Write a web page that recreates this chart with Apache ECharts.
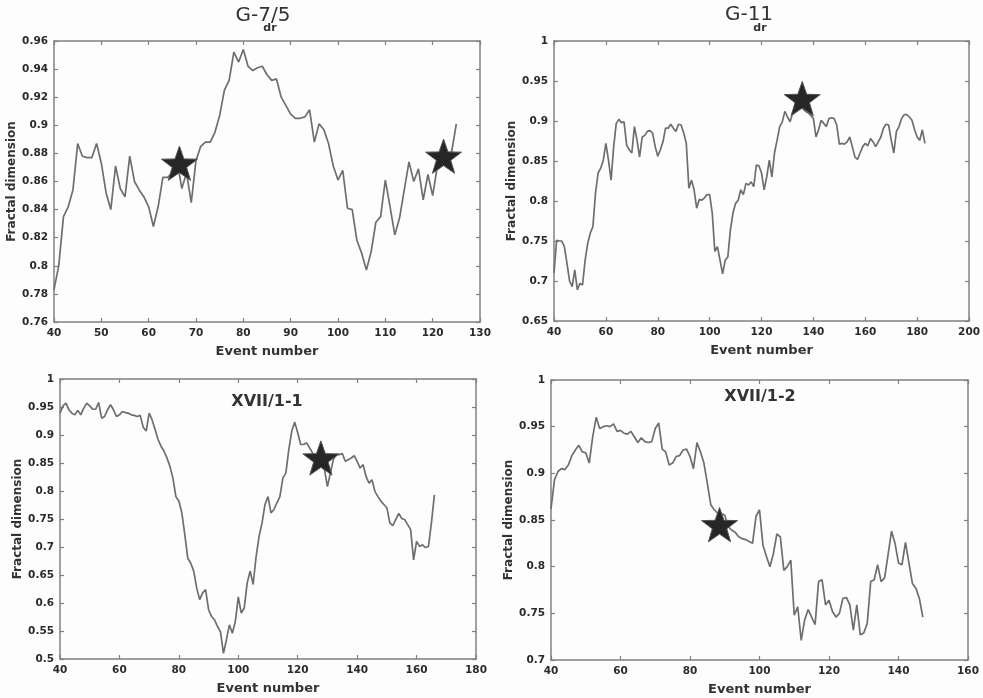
<!DOCTYPE html>
<html>
<head>
<meta charset="utf-8">
<script src="https://cdn.jsdelivr.net/npm/echarts@6/dist/echarts.min.js"></script>
<style>
  html, body { margin: 0; padding: 0; background: #fff; }
  #main { width: 983px; height: 698px; }
</style>
</head>
<body>
<div id="main"></div>
<script>
// event numbers start at 40 in every panel, one value per event
var startEvent = 40;

var g75Values = [
  0.783,0.80,0.835,0.842,0.854,0.887,0.878,0.877,0.877,0.887,
  0.873,0.852,0.84,0.871,0.855,0.849,0.878,0.86,0.854,0.849,
  0.842,0.828,0.842,0.863,0.863,0.866,0.875,0.855,0.866,0.845,
  0.875,0.885,0.888,0.888,0.895,0.907,0.925,0.932,0.952,0.945,
  0.954,0.942,0.939,0.941,0.942,0.936,0.932,0.933,0.92,0.914,
  0.908,0.905,0.905,0.906,0.911,0.888,0.901,0.897,0.887,0.871,
  0.861,0.868,0.841,0.84,0.818,0.809,0.797,0.81,0.831,0.835,
  0.861,0.842,0.822,0.834,0.854,0.874,0.86,0.869,0.847,0.865,
  0.85,0.871,0.878,0.88,0.881,0.901
];
var g11Values = [
  0.71,0.751,0.75,0.75,0.743,0.722,0.70,0.693,0.714,0.689,
  0.697,0.695,0.726,0.747,0.76,0.768,0.81,0.835,0.841,0.851,
  0.872,0.851,0.826,0.868,0.897,0.902,0.898,0.899,0.87,0.864,
  0.86,0.893,0.876,0.855,0.88,0.882,0.887,0.888,0.885,0.868,
  0.856,0.864,0.874,0.891,0.891,0.896,0.891,0.887,0.896,0.895,
  0.885,0.872,0.816,0.826,0.814,0.791,0.802,0.801,0.804,0.808,
  0.808,0.785,0.737,0.743,0.726,0.709,0.726,0.73,0.764,0.785,
  0.797,0.801,0.814,0.808,0.822,0.82,0.824,0.818,0.845,0.844,
  0.835,0.814,0.83,0.851,0.83,0.86,0.876,0.893,0.899,0.912,
  0.905,0.899,0.91,0.915,0.918,0.92,0.915,0.912,0.91,0.907,
  0.903,0.88,0.889,0.901,0.897,0.893,0.903,0.904,0.903,0.895,
  0.871,0.872,0.871,0.874,0.88,0.868,0.855,0.852,0.86,0.868,
  0.872,0.869,0.878,0.874,0.868,0.874,0.88,0.891,0.896,0.895,
  0.876,0.86,0.887,0.893,0.903,0.908,0.908,0.905,0.901,0.889,
  0.88,0.876,0.889,0.872
];
var x11Values = [
  0.939,0.952,0.957,0.945,0.939,0.936,0.944,0.936,0.948,0.957,
  0.952,0.946,0.946,0.958,0.93,0.933,0.945,0.954,0.945,0.933,
  0.936,0.942,0.94,0.939,0.936,0.935,0.933,0.935,0.914,0.907,
  0.939,0.927,0.91,0.892,0.88,0.871,0.859,0.844,0.823,0.79,
  0.782,0.761,0.722,0.68,0.671,0.657,0.627,0.606,0.618,0.624,
  0.588,0.576,0.57,0.558,0.549,0.51,0.534,0.561,0.546,0.567,
  0.611,0.582,0.591,0.636,0.657,0.633,0.683,0.719,0.743,0.776,
  0.79,0.761,0.767,0.779,0.79,0.823,0.832,0.874,0.907,0.923,
  0.904,0.883,0.883,0.886,0.877,0.868,0.859,0.856,0.85,0.838,
  0.808,0.832,0.856,0.865,0.865,0.867,0.853,0.856,0.859,0.863,
  0.853,0.841,0.847,0.826,0.814,0.82,0.799,0.79,0.782,0.776,
  0.77,0.743,0.738,0.749,0.76,0.751,0.749,0.74,0.731,0.677,
  0.71,0.701,0.704,0.699,0.701,0.743,0.793
];
var x12Values = [
  0.862,0.893,0.902,0.905,0.904,0.909,0.919,0.925,0.93,0.923,
  0.922,0.911,0.939,0.96,0.948,0.95,0.951,0.95,0.953,0.945,
  0.946,0.943,0.942,0.945,0.939,0.933,0.938,0.934,0.933,0.934,
  0.948,0.954,0.926,0.923,0.909,0.911,0.918,0.919,0.925,0.926,
  0.918,0.905,0.933,0.923,0.911,0.889,0.866,0.861,0.857,0.857,
  0.855,0.843,0.839,0.837,0.832,0.83,0.829,0.827,0.825,0.854,
  0.861,0.823,0.811,0.8,0.814,0.835,0.832,0.796,0.8,0.807,
  0.748,0.757,0.721,0.743,0.754,0.746,0.738,0.784,0.786,0.759,
  0.764,0.752,0.746,0.75,0.766,0.767,0.759,0.732,0.759,0.727,
  0.729,0.739,0.784,0.786,0.802,0.784,0.788,0.813,0.838,0.825,
  0.804,0.802,0.826,0.804,0.782,0.777,0.766,0.746
];

// star markers [event, fractal dimension]
var g75Stars = [[66.5, 0.873], [122.3, 0.878]];
var g11Stars = [[135.7, 0.928]];
var x11Stars = [[127.8, 0.859]];
var x12Stars = [[88.5, 0.845]];

var panelTitles = ['G-7/5', 'G-11', 'XVII/1-1', 'XVII/1-2'];

var panels = [
  { values: g75Values, stars: g75Stars, grid: {left: 54, top: 41, width: 426, height: 281},
    x: [40, 130, 10], y: [0.76, 0.96, 0.02] },
  { values: g11Values, stars: g11Stars, grid: {left: 554, top: 41, width: 416, height: 280},
    x: [40, 200, 20], y: [0.65, 1, 0.05] },
  { values: x11Values, stars: x11Stars, grid: {left: 60, top: 379, width: 416, height: 280},
    x: [40, 180, 20], y: [0.5, 1, 0.05] },
  { values: x12Values, stars: x12Stars, grid: {left: 551, top: 380, width: 417, height: 280},
    x: [40, 160, 20], y: [0.7, 1, 0.05] }
];

var starPath = 'path://M50,0 L61.8,33.8 L97.6,34.5 L69.1,56.2 L79.4,90.5 L50,70.1 L20.6,90.5 L30.9,56.2 L2.4,34.5 L38.2,33.8 Z';
var frameColor = '#808080';
var labelStyle = { color: '#2a2a2a', fontFamily: 'DejaVu Sans', fontWeight: 'bold', fontSize: 10.5 };

var chart = echarts.init(document.getElementById('main'));
var grids = [], xAxes = [], yAxes = [], series = [];

panels.forEach(function (p, i) {
  grids.push(p.grid);
  var pts = p.values.map(function (v, k) { return [startEvent + k, v]; });
  var axLine = { show: true, lineStyle: { color: frameColor, width: 1.5 } };
  var axTick = { show: true, inside: true, length: 4, lineStyle: { color: frameColor, width: 1.2 } };
  var nameStyle = { color: '#333', fontFamily: 'DejaVu Sans', fontWeight: 'bold', fontSize: 12 };

  xAxes.push({
    type: 'value', gridIndex: i, min: p.x[0], max: p.x[1], interval: p.x[2],
    position: 'bottom', axisLine: axLine, axisTick: axTick, splitLine: { show: false },
    axisLabel: Object.assign({ margin: 6 }, labelStyle),
    name: 'Event number', nameLocation: 'middle', nameGap: 23,
    nameTextStyle: Object.assign({}, nameStyle, { fontSize: 13 })
  });
  xAxes.push({
    type: 'value', gridIndex: i, min: p.x[0], max: p.x[1], interval: p.x[2],
    position: 'top', axisLine: axLine, axisTick: axTick, splitLine: { show: false },
    axisLabel: { show: false }
  });
  yAxes.push({
    type: 'value', gridIndex: i, min: p.y[0], max: p.y[1], interval: p.y[2],
    position: 'left', axisLine: axLine, axisTick: axTick, splitLine: { show: false },
    axisLabel: Object.assign({
      margin: 6,
      formatter: function (v) { return String(+v.toFixed(2)); }
    }, labelStyle),
    name: 'Fractal dimension', nameLocation: 'middle', nameGap: 33,
    nameTextStyle: nameStyle
  });
  yAxes.push({
    type: 'value', gridIndex: i, min: p.y[0], max: p.y[1], interval: p.y[2],
    position: 'right', axisLine: axLine, axisTick: axTick, splitLine: { show: false },
    axisLabel: { show: false }
  });

  series.push({
    type: 'line', xAxisIndex: i * 2, yAxisIndex: i * 2, data: pts,
    showSymbol: false, silent: true,
    lineStyle: { color: '#6e6e6e', width: 1.7 }
  });
  series.push({
    type: 'scatter', xAxisIndex: i * 2, yAxisIndex: i * 2, data: p.stars,
    symbol: starPath, symbolSize: 36, symbolKeepAspect: true, silent: true, z: 5,
    itemStyle: { color: '#262626', opacity: 1, borderColor: '#555', borderWidth: 1 }
  });
});

var titleFont = '20px "DejaVu Sans"';
var subFont = 'bold 11px "DejaVu Sans"';
var innerFont = 'bold 16px "DejaVu Sans"';

var option = {
  backgroundColor: '#fdfdfd',
  animation: false,
  grid: grids,
  xAxis: xAxes,
  yAxis: yAxes,
  series: series,
  graphic: [
    { type: 'text', x: 263, y: 16, style: { text: panelTitles[0], font: titleFont, fill: '#333', align: 'center', verticalAlign: 'middle' } },
    { type: 'text', x: 270, y: 28, style: { text: 'dr', font: subFont, fill: '#333', align: 'center', verticalAlign: 'middle' } },
    { type: 'text', x: 749, y: 15, style: { text: panelTitles[1], font: titleFont, fill: '#333', align: 'center', verticalAlign: 'middle' } },
    { type: 'text', x: 760, y: 28, style: { text: 'dr', font: subFont, fill: '#333', align: 'center', verticalAlign: 'middle' } },
    { type: 'text', x: 267, y: 402, style: { text: panelTitles[2], font: innerFont, fill: '#333', align: 'center', verticalAlign: 'middle' } },
    { type: 'text', x: 760, y: 397, style: { text: panelTitles[3], font: innerFont, fill: '#333', align: 'center', verticalAlign: 'middle' } }
  ]
};

chart.setOption(option);
</script>
</body>
</html>
